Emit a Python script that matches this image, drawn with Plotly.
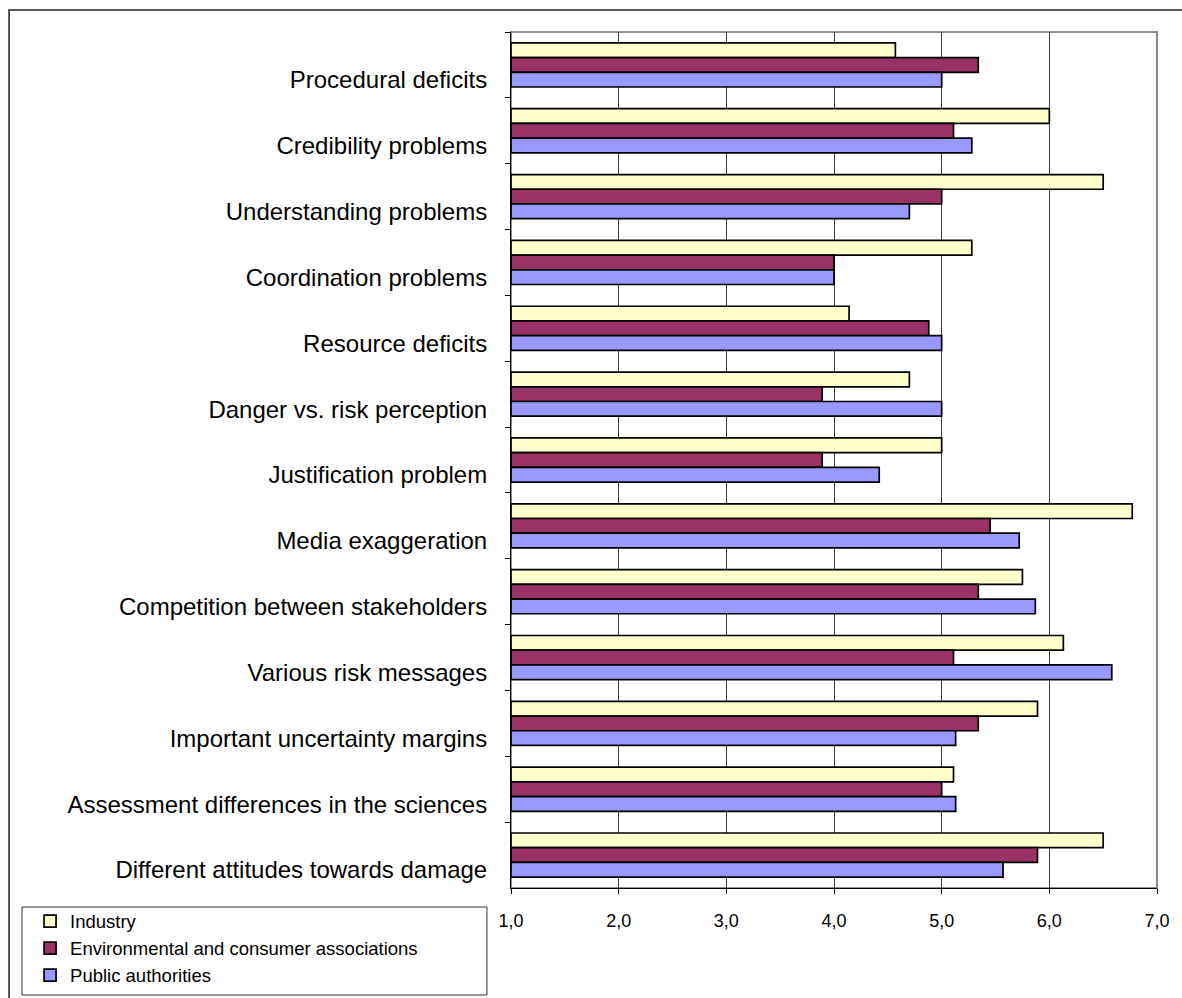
import plotly.graph_objects as go

categories = [
    "Procedural deficits",
    "Credibility problems",
    "Understanding problems",
    "Coordination problems",
    "Resource deficits",
    "Danger vs. risk perception",
    "Justification problem",
    "Media exaggeration",
    "Competition between stakeholders",
    "Various risk messages",
    "Important uncertainty margins",
    "Assessment differences in the sciences",
    "Different attitudes towards damage",
]

industry = [4.57, 6.00, 6.50, 5.28, 4.14, 4.70, 5.00, 6.77, 5.75, 6.13, 5.89, 5.11, 6.50]
environmental = [5.34, 5.11, 5.00, 4.00, 4.88, 3.89, 3.89, 5.45, 5.34, 5.11, 5.34, 5.00, 5.89]
public = [5.00, 5.28, 4.70, 4.00, 5.00, 5.00, 4.42, 5.72, 5.87, 6.58, 5.13, 5.13, 5.57]

series_names = ["Industry", "Environmental and consumer associations", "Public authorities"]
series_values = [industry, environmental, public]
series_colors = ["#FFFFCC", "#993366", "#9999FF"]

x_ticks = [1, 2, 3, 4, 5, 6, 7]
SCALE_MIN = 1

FONT = "Arial, 'Liberation Sans', sans-serif"

fig = go.Figure()
for name, vals, color in zip(series_names, series_values, series_colors):
    # bars grow from the scale minimum (1.0), so the drawn length is value - 1
    fig.add_trace(go.Bar(
        name=name,
        y=categories,
        x=[v - SCALE_MIN for v in vals],
        base=SCALE_MIN,
        orientation="h",
        marker=dict(color=color, line=dict(color="black", width=1.7)),
        legendgroup=name,
        hovertemplate="%{y}: %{customdata:.2f}<extra>" + name + "</extra>",
        customdata=vals,
    ))

fig.update_layout(
    width=1182,
    height=998,
    margin=dict(l=511, r=25, t=32, b=110, autoexpand=False),
    paper_bgcolor="white",
    plot_bgcolor="white",
    barmode="group",
    bargap=0.33,
    bargroupgap=0,
    separators=", ",
    font=dict(family=FONT, color="black"),
    showlegend=True,
    legend=dict(
        x=-0.7445, y=-0.017, xanchor="left", yanchor="top",
        bgcolor="rgba(0,0,0,0)", borderwidth=0,
        font=dict(size=18.5, family=FONT, color="black"),
        tracegroupgap=0,
        traceorder="normal",
    ),
    xaxis=dict(
        range=[1, 7],
        tickvals=x_ticks,
        tickformat=".1f",
        showgrid=True,
        gridcolor="#3a3a3a",
        gridwidth=1,
        showline=True,
        linecolor="black",
        linewidth=1,
        ticks="outside",
        ticklen=5,
        tickcolor="black",
        tickfont=dict(size=18, family=FONT, color="black"),
        ticklabelstandoff=11,
        zeroline=False,
        fixedrange=True,
    ),
    yaxis=dict(
        type="category",
        categoryorder="array",
        categoryarray=categories,
        autorange="reversed",
        showgrid=False,
        showline=True,
        linecolor="black",
        linewidth=1,
        ticks="outside",
        tickson="boundaries",
        ticklen=5,
        tickcolor="black",
        tickfont=dict(size=24, family=FONT, color="black"),
        ticklabelstandoff=18,
        ticklabelshift=-15,
        fixedrange=True,
    ),
    shapes=[
        # plot-area frame
        dict(type="rect", xref="paper", yref="paper", x0=0, x1=1, y0=0, y1=1,
             line=dict(color="#8c8c8c", width=2), layer="below"),
        # outer chart frame
        dict(type="rect", xref="paper", yref="paper", x0=-0.777, x1=1.06, y0=-0.15, y1=1.0257,
             line=dict(color="#222222", width=1.5)),
        # legend frame
        dict(type="rect", xref="paper", yref="paper", x0=-0.757, x1=-0.0372,
             y0=-0.125, y1=-0.0222, line=dict(color="#333333", width=1)),
    ],
)

fig.write_html("out.html")
